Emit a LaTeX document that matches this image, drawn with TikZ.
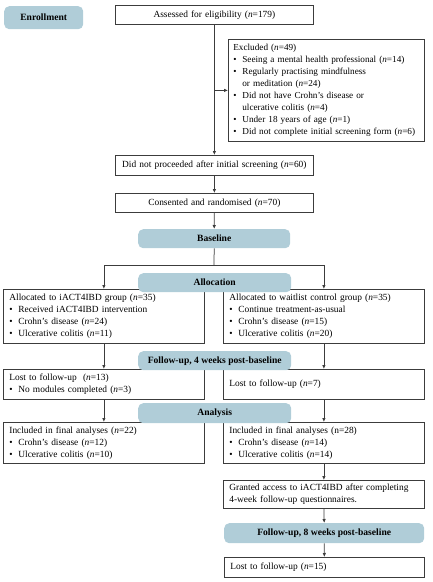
\documentclass[tikz,border=0pt]{standalone}
\usepackage{fontspec}
\setmainfont{Liberation Serif}
\usetikzlibrary{arrows.meta}
\definecolor{hdr}{RGB}{176,205,216}
\definecolor{ln}{RGB}{60,60,60}
\newcommand{\nn}{\textit{n}}
\newcommand{\bul}{\makebox[9pt][l]{\textbullet}}
\newcommand{\ind}{\hspace*{9pt}}
\tikzset{
  box/.style={draw=ln, line width=0.75pt, anchor=north west, inner xsep=6pt, inner ysep=1pt,
    font=\fontsize{9.4}{12}\selectfont, align=left},
  cbox/.style={box, align=center},
  hbox/.style={fill=hdr, rounded corners=5pt, anchor=north west, inner sep=0pt,
    font=\fontsize{9.6}{11}\selectfont\bfseries, align=center},
  arr/.style={draw=ln, line width=0.75pt, -{Latex[length=4pt,width=3.5pt]}},
  ln/.style={draw=ln, line width=0.75pt}
}
\begin{document}
\begin{tikzpicture}[x=1pt,y=-1pt]
\useasboundingbox (0,0) rectangle (432,582);
% boxes
\node[cbox, minimum width=198, minimum height=19, text width=186pt] (assess) at (115,5) {Assessed for eligibility (\nn=179)};
\node[box, inner xsep=5pt, font=\fontsize{9.2}{12}\selectfont, minimum width=196, minimum height=102, text width=186pt] (excl) at (228,39) {Excluded (\nn=49)\\
\bul Seeing a mental health professional (\nn=14)\\
\bul Regularly practising mindfulness\\
\ind or meditation (\nn=24)\\
\bul Did not have Crohn’s disease or\\
\ind ulcerative colitis (\nn=4)\\
\bul Under 18 years of age (\nn=1)\\
\bul \mbox{Did not complete initial screening form (\nn=6)}};
\node[cbox, minimum width=198, minimum height=20, text width=186pt] (didnot) at (115,155) {Did not proceeded after initial screening (\nn=60)};
\node[cbox, minimum width=198, minimum height=19, text width=186pt] (consent) at (115,193) {Consented and randomised (\nn=70)};
\node[box, minimum width=201, minimum height=54, text width=189pt] (g1) at (3,289) {Allocated to iACT4IBD group (\nn=35)\\
\bul Received iACT4IBD intervention\\
\bul Crohn’s disease (\nn=24)\\
\bul Ulcerative colitis (\nn=11)};
\node[box, minimum width=201, minimum height=54, text width=189pt] (g2) at (223,289) {Allocated to waitlist control group (\nn=35)\\
\bul Continue treatment-as-usual\\
\bul Crohn’s disease (\nn=15)\\
\bul Ulcerative colitis (\nn=20)};
\node[box, minimum width=201, minimum height=30, text width=189pt] (l1) at (3,369) {Lost to follow-up\ \ (\nn=13)\\
\bul No modules completed (\nn=3)};
\node[box, minimum width=201, minimum height=30, text width=189pt] (l2) at (223,369) {Lost to follow-up (\nn=7)};
\node[box, minimum width=201, minimum height=41, text width=189pt] (i1) at (3,422) {Included in final analyses (\nn=22)\\
\bul Crohn’s disease (\nn=12)\\
\bul Ulcerative colitis (\nn=10)};
\node[box, minimum width=201, minimum height=41, text width=189pt] (i2) at (223,422) {Included in final analyses (n=28)\\
\bul Crohn’s disease (\nn=14)\\
\bul Ulcerative colitis (\nn=14)};
\node[box, minimum width=201, minimum height=28, text width=189pt] (gr) at (223,480) {Granted access to iACT4IBD after completing\\4-week follow-up questionnaires.};
\node[box, minimum width=200, minimum height=20, text width=188pt] (l15) at (224,557) {Lost to follow-up (\nn=15)};
% connectors
\coordinate (bx) at (assess.south |- excl.west);
\draw[arr] (assess.south) -- (didnot.north);
\draw[arr] (bx) -- (excl.west);
\draw[arr] (didnot.south) -- (consent.north);
\node[hbox, minimum width=152, minimum height=19] (base) at (138,229) {Baseline};
\draw[arr] (consent.south) -- (base.north);
\coordinate (split) at (214,265);
\draw[ln] (base.south) -- (split);
\draw[arr] (split) -| (g1.north);
\draw[arr] (split) -| (g2.north);
\draw[arr] (g1.south) -- (l1.north);
\draw[arr] (g2.south) -- (l2.north);
\draw[arr] (l1.south) -- (i1.north);
\draw[arr] (l2.south) -- (i2.north);
\draw[arr] (i2.south) -- (gr.north);
\node[hbox, minimum width=200, minimum height=20] (fu8) at (224,523) {Follow-up, 8 weeks post-baseline};
\draw[arr] (gr.south) -- (fu8.north);
\draw[arr] (fu8.south) -- (l15.north);
% headers
\node[hbox, minimum width=79, minimum height=23] (enr) at (4,6) {Enrollment};
\node[hbox, minimum width=153, minimum height=19] (alloc) at (138,273) {Allocation};
\node[hbox, minimum width=153, minimum height=19] (fu4) at (138,351) {Follow-up, 4 weeks post-baseline};
\node[hbox, minimum width=153, minimum height=20] (ana) at (138,403) {Analysis};
\end{tikzpicture}
\end{document}
